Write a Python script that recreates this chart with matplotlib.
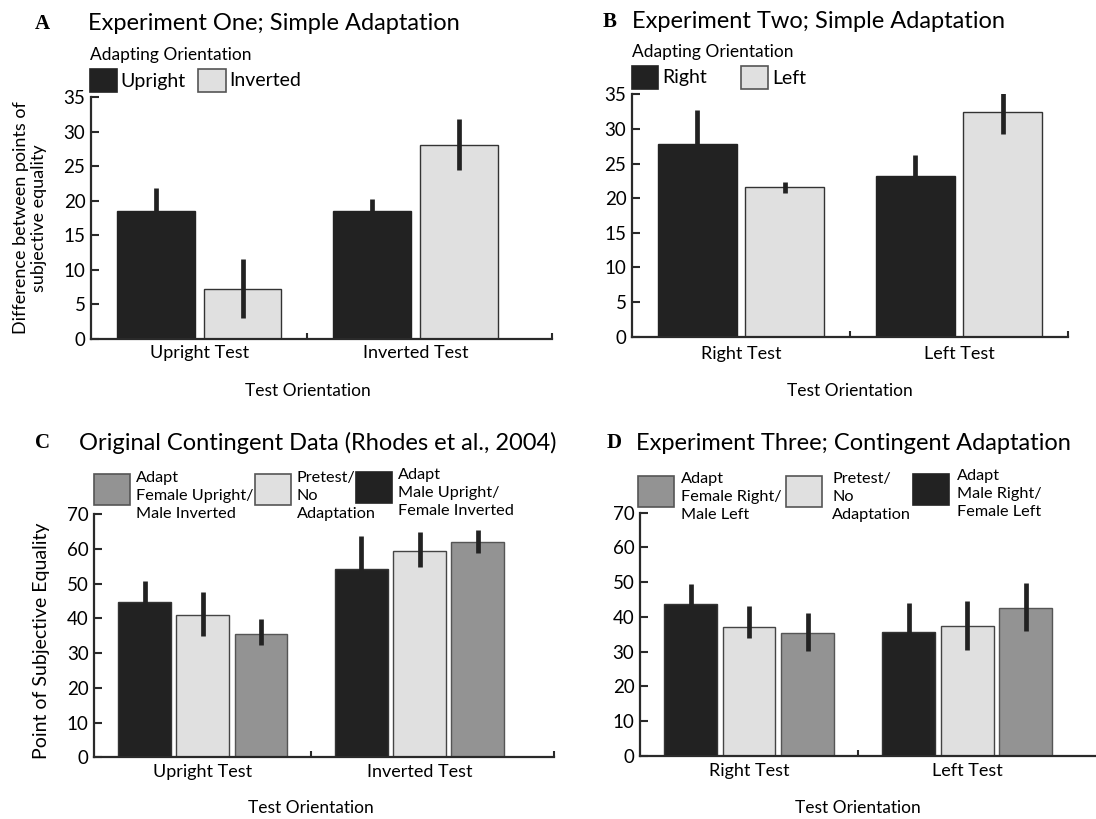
import matplotlib
matplotlib.use("Agg")
from matplotlib import pyplot as plt
from matplotlib.patches import Rectangle

plt.rcParams['font.family'] = ['Lato', 'DejaVu Sans']

W, H = 1096, 819

# ---- data ----
simple_tests_a = ["Upright Test", "Inverted Test"]
a_upright = [18.5, 18.5]
a_upright_err = [3.4, 1.7]
a_inverted = [7.3, 28.0]
a_inverted_err_lo = [4.3, 3.6]
a_inverted_err_hi = [4.3, 3.8]

simple_tests_b = ["Right Test", "Left Test"]
b_right = [27.8, 23.2]
b_right_err = [5.0, 3.1]
b_left = [21.6, 32.5]
b_left_err_lo = [0.8, 3.3]
b_left_err_hi = [0.8, 3.5]

c_male = [44.8, 54.2]
c_male_err = [6.1, 9.5]
c_pretest = [40.9, 59.5]
c_pretest_err_lo = [6.0, 4.6]
c_pretest_err_hi = [6.8, 5.5]
c_female = [35.6, 61.9]
c_female_err_lo = [3.3, 3.0]
c_female_err_hi = [4.2, 3.6]

d_male = [43.7, 35.6]
d_male_err = [5.9, 8.3]
d_pretest = [37.0, 37.4]
d_pretest_err_lo = [3.1, 6.9]
d_pretest_err_hi = [6.3, 7.2]
d_female = [35.3, 42.6]
d_female_err_lo = [5.1, 6.6]
d_female_err_hi = [5.8, 7.2]

BLACK = '#222222'
LIGHT = '#e0e0e0'
GREY = '#939393'
ERR = '#222222'


def fx(x):
    return x / W


def fy(y):
    return 1 - y / H


fig = plt.figure(figsize=(W / 100, H / 100), dpi=100)


def make_axes(left, right, y0, ytop, xmax, ymax, step, end_tick=True, xpad=3):
    ax = fig.add_axes([fx(left), fy(y0), (right - left) / W, (y0 - ytop) / H])
    ax.set_xlim(-0.5, xmax)
    ax.set_ylim(0, ymax)
    for s in ['top', 'right']:
        ax.spines[s].set_visible(False)
    for s in ['left', 'bottom']:
        ax.spines[s].set_linewidth(1.6)
        ax.spines[s].set_color('#2a2a2a')
    ax.set_yticks(range(0, ymax + 1, step))
    ax.tick_params(axis='y', direction='in', length=6, width=1.5,
                   labelsize=13.5, pad=4, color='#2a2a2a')
    ax.tick_params(axis='x', which='major', length=0, labelsize=13, pad=xpad)
    minor = [0.5, xmax] if end_tick else [0.5]
    ax.set_xticks(minor, minor=True)
    ax.tick_params(axis='x', which='minor', direction='in', length=4,
                   width=1.5, color='#2a2a2a')
    ax.patch.set_alpha(0)
    return ax


def bars(ax, offset, width, vals, lo, hi, color, edge):
    xs = [i + offset for i in range(len(vals))]
    ax.bar(xs, vals, width=width, color=color, edgecolor=edge, linewidth=1.0,
           zorder=2)
    ax.errorbar(xs, vals, yerr=[lo, hi], fmt='none', ecolor=ERR,
                elinewidth=3.4, capsize=0, zorder=3)


def xlabel(ax, dy):
    ax.annotate('Test Orientation', xy=(0.5, 0), xycoords=ax.get_xaxis_transform(),
                xytext=(0, -dy * 0.72), textcoords='offset points',
                ha='center', va='center', fontsize=12.5)


def box(x0, y0, x1, y1, color, edge):
    fig.patches.append(Rectangle((fx(x0), fy(y1)), (x1 - x0) / W, (y1 - y0) / H,
                                 transform=fig.transFigure, facecolor=color,
                                 edgecolor=edge, linewidth=1.2))


def label(x, y, s, size=13, **kw):
    fig.text(fx(x), fy(y), s, fontsize=size, ha='left', va='center', **kw)


def panel_title(x_letter, x_title, y, letter, title):
    fig.text(fx(x_letter), fy(y), letter, fontsize=15, fontweight='bold',
             family='Liberation Serif', ha='left', va='center')
    fig.text(fx(x_title), fy(y), title, fontsize=17, ha='left', va='center')


# ---- panel A ----
axA = make_axes(91, 552, 339, 97, 1.63, 35, 5, xpad=4)
bars(axA, -0.2, 0.36, a_upright, a_upright_err, a_upright_err, BLACK, BLACK)
bars(axA, 0.2, 0.36, a_inverted, a_inverted_err_lo, a_inverted_err_hi, LIGHT, '#333333')
axA.set_xticks([0, 1], simple_tests_a)
fig.text(fx(30), fy(218), 'Difference between points of\nsubjective equality',
         fontsize=13, rotation=90, ha='center', va='center', linespacing=1.2)
xlabel(axA, 52)
panel_title(35, 88, 24, 'A', 'Experiment One; Simple Adaptation')
label(90, 55, 'Adapting Orientation', size=12.5)
box(90, 69, 117, 92, BLACK, BLACK)
label(120, 81, 'Upright', size=14)
box(198, 69, 226, 92, LIGHT, '#555555')
label(229, 81, 'Inverted', size=14)

# ---- panel B ----
axB = make_axes(632, 1068, 336.7, 94.3, 1.5, 35, 5, xpad=7)
bars(axB, -0.2, 0.36, b_right, b_right_err, b_right_err, BLACK, BLACK)
bars(axB, 0.2, 0.36, b_left, b_left_err_lo, b_left_err_hi, LIGHT, '#333333')
axB.set_xticks([0, 1], simple_tests_b)
xlabel(axB, 54)
panel_title(603, 632, 22, 'B', 'Experiment Two; Simple Adaptation')
label(632, 52, 'Adapting Orientation', size=12.5)
box(632, 66, 658, 89, BLACK, BLACK)
label(662, 78, 'Right', size=14)
box(741, 66, 768, 89, LIGHT, '#555555')
label(772, 78, 'Left', size=14)

# ---- panel C ----
axC = make_axes(94.3, 554, 757.3, 514.3, 1.62, 70, 10, xpad=5)
bars(axC, -0.268, 0.242, c_male, c_male_err, c_male_err, BLACK, '#333333')
bars(axC, 0.0, 0.242, c_pretest, c_pretest_err_lo, c_pretest_err_hi, LIGHT, '#444444')
bars(axC, 0.268, 0.242, c_female, c_female_err_lo, c_female_err_hi, GREY, '#555555')
axC.set_xticks([0, 1], simple_tests_a)
fig.text(fx(42), fy(641), 'Point of Subjective Equality', fontsize=14,
         rotation=90, ha='center', va='center')
xlabel(axC, 51)
panel_title(35, 79, 443, 'C', 'Original Contingent Data (Rhodes et al., 2004)')
box(94, 474, 130, 505, GREY, '#555555')
label(136, 496, 'Adapt\nFemale Upright/\nMale Inverted', size=11.7, linespacing=1.35)
box(255, 474, 291, 505, LIGHT, '#555555')
label(297, 496, 'Pretest/\nNo\nAdaptation', size=11.7, linespacing=1.35)
box(356, 472, 392, 503, BLACK, BLACK)
label(398, 493, 'Adapt\nMale Upright/\nFemale Inverted', size=11.7, linespacing=1.35)

# ---- panel D ----
axD = make_axes(640, 1096, 756, 512.7, 1.59, 70, 10, end_tick=False, xpad=5)
bars(axD, -0.268, 0.242, d_male, d_male_err, d_male_err, BLACK, '#333333')
bars(axD, 0.0, 0.242, d_pretest, d_pretest_err_lo, d_pretest_err_hi, LIGHT, '#444444')
bars(axD, 0.268, 0.242, d_female, d_female_err_lo, d_female_err_hi, GREY, '#555555')
axD.set_xticks([0, 1], simple_tests_b)
xlabel(axD, 52)
panel_title(607, 636, 443, 'D', 'Experiment Three; Contingent Adaptation')
box(638, 476, 674, 507, GREY, '#555555')
label(681, 497, 'Adapt\nFemale Right/\nMale Left', size=11.7, linespacing=1.35)
box(786, 476, 822, 507, LIGHT, '#555555')
label(832, 497, 'Pretest/\nNo\nAdaptation', size=11.7, linespacing=1.35)
box(913, 474, 949, 505, BLACK, BLACK)
label(957, 494, 'Adapt\nMale Right/\nFemale Left', size=11.7, linespacing=1.35)

fig.savefig('out.png', dpi=100)
